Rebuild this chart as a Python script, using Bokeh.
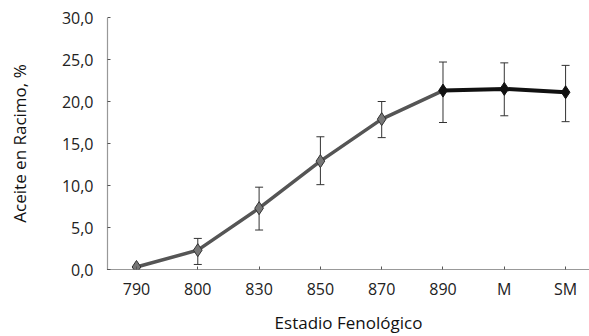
from bokeh.plotting import figure
from bokeh.models import ColumnDataSource, Whisker, TeeHead, FixedTicker, CustomJSTickFormatter, Range1d
from bokeh.embed import file_html
from bokeh.resources import INLINE

categories = ["790", "800", "830", "850", "870", "890", "M", "SM"]
aceite = [0.3, 2.3, 7.3, 12.9, 17.9, 21.3, 21.5, 21.1]
err_upper = [0.3, 3.7, 9.8, 15.8, 20.0, 24.7, 24.6, 24.3]
err_lower = [0.3, 0.6, 4.7, 10.1, 15.7, 17.5, 18.3, 17.6]
y_ticks = [0, 5, 10, 15, 20, 25, 30]

xs = list(range(len(categories)))
src = ColumnDataSource(dict(x=xs, y=aceite, up=err_upper, lo=err_lower))

p = figure(width=589, height=336, output_backend="svg", toolbar_location=None,
           x_range=Range1d(-0.473, 7.39), y_range=Range1d(0, 30),
           min_border_left=107, min_border_right=0, min_border_top=17, min_border_bottom=0)
p.outline_line_color = None
p.background_fill_color = "white"
p.border_fill_color = "white"
p.grid.visible = False

wh = Whisker(source=src, base="x", upper="up", lower="lo", line_color="#333333", line_width=1,
             upper_head=TeeHead(size=8, line_color="#333333", line_width=1),
             lower_head=TeeHead(size=8, line_color="#333333", line_width=1))
p.add_layout(wh)

p.line(xs[:6], aceite[:6], line_color="#555555", line_width=3.5)
p.line(xs[5:], aceite[5:], line_color="#111111", line_width=4)
p.scatter(xs[:5], aceite[:5], marker="diamond", size=13, fill_color="#777777", line_color="#333333", line_width=1)
p.scatter(xs[5:], aceite[5:], marker="diamond", size=13, fill_color="#111111", line_color="#111111")

font = "Open Sans"
p.xaxis.ticker = FixedTicker(ticks=xs)
p.xaxis.formatter = CustomJSTickFormatter(args=dict(labels=categories),
                                          code="return labels[Math.round(tick)];")
p.yaxis.ticker = FixedTicker(ticks=y_ticks)
p.yaxis.formatter = CustomJSTickFormatter(code="return tick.toFixed(1).replace('.', ',');")

for ax in (p.xaxis[0], p.yaxis[0]):
    ax.axis_line_color = "#333333"
    ax.axis_line_dash = "1 1"
    ax.axis_line_width = 1.2
    ax.major_tick_in = 3
    ax.major_tick_out = 0
    ax.major_tick_line_color = "#555555"
    ax.minor_tick_line_color = None
    ax.major_label_text_font = font
    ax.major_label_text_font_size = "16px"
    ax.major_label_text_color = "#222222"
    ax.axis_label_text_font = font
    ax.axis_label_text_font_style = "normal"
    ax.axis_label_text_color = "#111111"

p.xaxis.axis_label = "Estadio Fenológico"
p.yaxis.axis_label = "Aceite en Racimo, %"
p.xaxis.axis_label_text_font_size = "17px"
p.yaxis.axis_label_text_font_size = "17px"
p.xaxis.major_label_standoff = 8
p.xaxis.axis_label_standoff = 8
p.yaxis.major_label_standoff = 14
p.yaxis.axis_label_standoff = 28

open("out.html", "w").write(file_html(p, INLINE))
